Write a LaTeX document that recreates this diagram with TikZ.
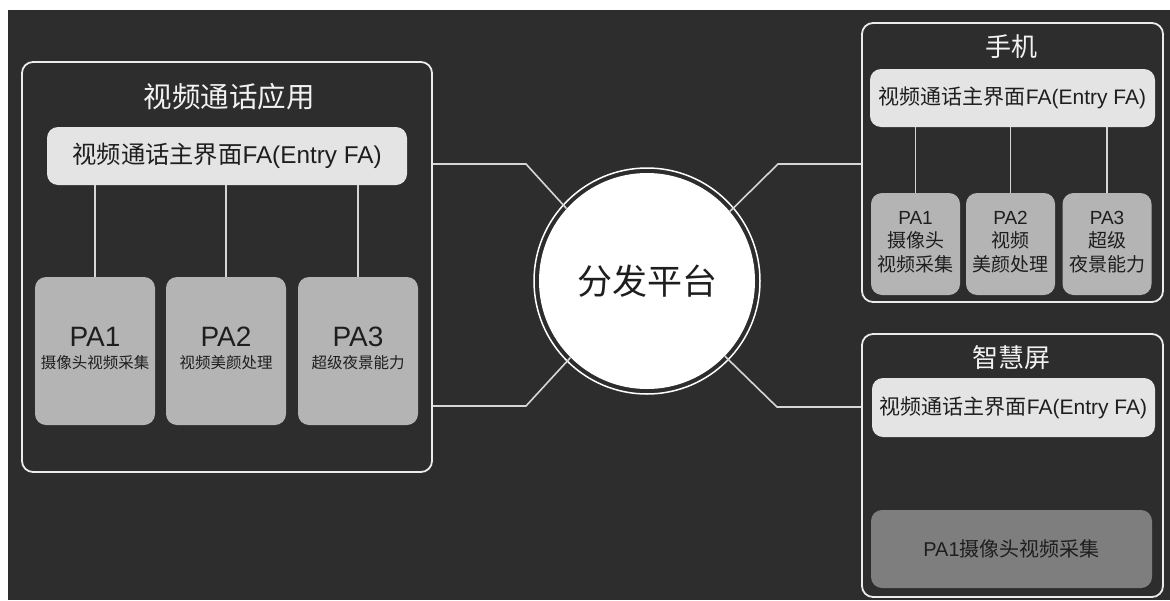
\documentclass[tikz,border=0pt]{standalone}
\usepackage{fontspec}
\setmainfont{Noto Sans CJK SC}
\newfontfamily\lat{Liberation Sans}
\definecolor{bgc}{HTML}{2D2D2D}
\definecolor{entryc}{HTML}{E4E4E4}
\definecolor{pac}{HTML}{B4B4B4}
\definecolor{padark}{HTML}{7E7E7E}
\definecolor{linec}{HTML}{D6D6D6}
\definecolor{txt}{HTML}{1E1E1E}
\tikzset{
  panel/.style={draw=white!92!black, line width=1.8pt, rounded corners=11pt, inner sep=0pt},
  entry/.style={fill=entryc, rounded corners=11pt, inner sep=0pt, text=txt},
  pabox/.style={fill=pac, rounded corners=11pt, inner sep=0pt},
  paboxd/.style={fill=padark, rounded corners=11pt, inner sep=0pt},
  titletext/.style={text=white!95!black, inner sep=0pt},
  patop/.style={text=txt, inner sep=0pt, font=\fontsize{28}{30}\selectfont\lat},
  pasub/.style={text=txt, inner sep=0pt, font=\fontsize{15.5}{18}\selectfont},
  pasmall/.style={text=txt, inner sep=0pt, align=center, font=\fontsize{19}{23.5}\selectfont},
  conn/.style={draw=linec, line width=1.6pt},
  hub/.style={circle, fill=white, inner sep=0pt, minimum size=216pt, text=txt},
}
\begin{document}
\begin{tikzpicture}[x=1pt,y=-1pt]
\useasboundingbox (0,0) rectangle (1170,600);
\fill[white] (0,0) rectangle (1170,600);
\fill[bgc] (8,10) rectangle (1170,600);

% ---------- left panel ----------
\node[panel, minimum width=410pt, minimum height=410pt] (L) at (227,267) {};
\node[titletext, font=\fontsize{28.5}{30}\selectfont] (Lt) at (229,97) {视频通话应用};
\node[entry, minimum width=360pt, minimum height=58pt, font=\fontsize{24.3}{26}\selectfont] (Le) at (227,156) {视频通话主界面{\lat FA(Entry FA)}};
\node[pabox, minimum width=120pt, minimum height=148pt] (Lp1) at (95,351) {};
\node[pabox, minimum width=120pt, minimum height=148pt] (Lp2) at (226,351) {};
\node[pabox, minimum width=120pt, minimum height=148pt] (Lp3) at (358,351) {};
\node[patop] (Lp1a) at (95,337) {PA1};
\node[pasub] (Lp1b) at (95,363) {摄像头视频采集};
\node[patop] (Lp2a) at (226,337) {PA2};
\node[pasub] (Lp2b) at (226,363) {视频美颜处理};
\node[patop] (Lp3a) at (358,337) {PA3};
\node[pasub] (Lp3b) at (358,363) {超级夜景能力};
\draw[conn] (Lp1.north) -- (Lp1.north |- Le.south);
\draw[conn] (Lp2.north) -- (Lp2.north |- Le.south);
\draw[conn] (Lp3.north) -- (Lp3.north |- Le.south);

% ---------- hub ----------
\node[hub, font=\fontsize{35}{38}\selectfont] (H) at (647,281) {分发平台};
\draw[white, line width=1.5pt] (H.center) circle[radius=113pt];

% ---------- right top panel ----------
\node[panel, minimum width=301pt, minimum height=279pt] (R1) at (1012.5,162.5) {};
\node[titletext, font=\fontsize{26}{28}\selectfont] (R1t) at (1011,47) {手机};
\node[entry, minimum width=285pt, minimum height=58pt, font=\fontsize{21}{23}\selectfont] (R1e) at (1012.5,98) {视频通话主界面{\lat FA(Entry FA)}};
\node[pabox, minimum width=89pt, minimum height=102pt] (Rp1) at (915.5,244) {};
\node[pabox, minimum width=89pt, minimum height=102pt] (Rp2) at (1010.5,244) {};
\node[pabox, minimum width=89pt, minimum height=102pt] (Rp3) at (1107,244) {};
\node[pasmall] (Rp1t) at (915.5,242) {{\lat PA1}\\摄像头\\视频采集};
\node[pasmall] (Rp2t) at (1010.5,242) {{\lat PA2}\\视频\\美颜处理};
\node[pasmall] (Rp3t) at (1107,242) {{\lat PA3}\\超级\\夜景能力};
\draw[conn] (Rp1.north) -- (Rp1.north |- R1e.south);
\draw[conn] (Rp2.north) -- (Rp2.north |- R1e.south);
\draw[conn] (Rp3.north) -- (Rp3.north |- R1e.south);

% ---------- right bottom panel ----------
\node[panel, minimum width=301pt, minimum height=263pt] (R2) at (1012.5,465.5) {};
\node[titletext, font=\fontsize{26}{28}\selectfont] (R2t) at (1011,358) {智慧屏};
\node[entry, minimum width=283pt, minimum height=59pt, font=\fontsize{21}{23}\selectfont] (R2e) at (1013.5,407.5) {视频通话主界面{\lat FA(Entry FA)}};
\node[paboxd, minimum width=281pt, minimum height=78pt, text=txt, font=\fontsize{20}{22}\selectfont] (R2p) at (1011.5,549) {{\lat PA1}摄像头视频采集};

% ---------- connectors ----------
\coordinate (c1) at (526,164);
\coordinate (c2) at (526,406);
\coordinate (c3) at (778,164);
\coordinate (c4) at (777,407);
\draw[conn] (L.east |- c1) -- (c1) -- (H.138);
\draw[conn] (L.east |- c2) -- (c2) -- (H.225);
\draw[conn] (H.40) -- (c3) -- (R1.west |- c3);
\draw[conn] (H.-44) -- (c4) -- (R2.west |- c4);
\end{tikzpicture}
\end{document}
